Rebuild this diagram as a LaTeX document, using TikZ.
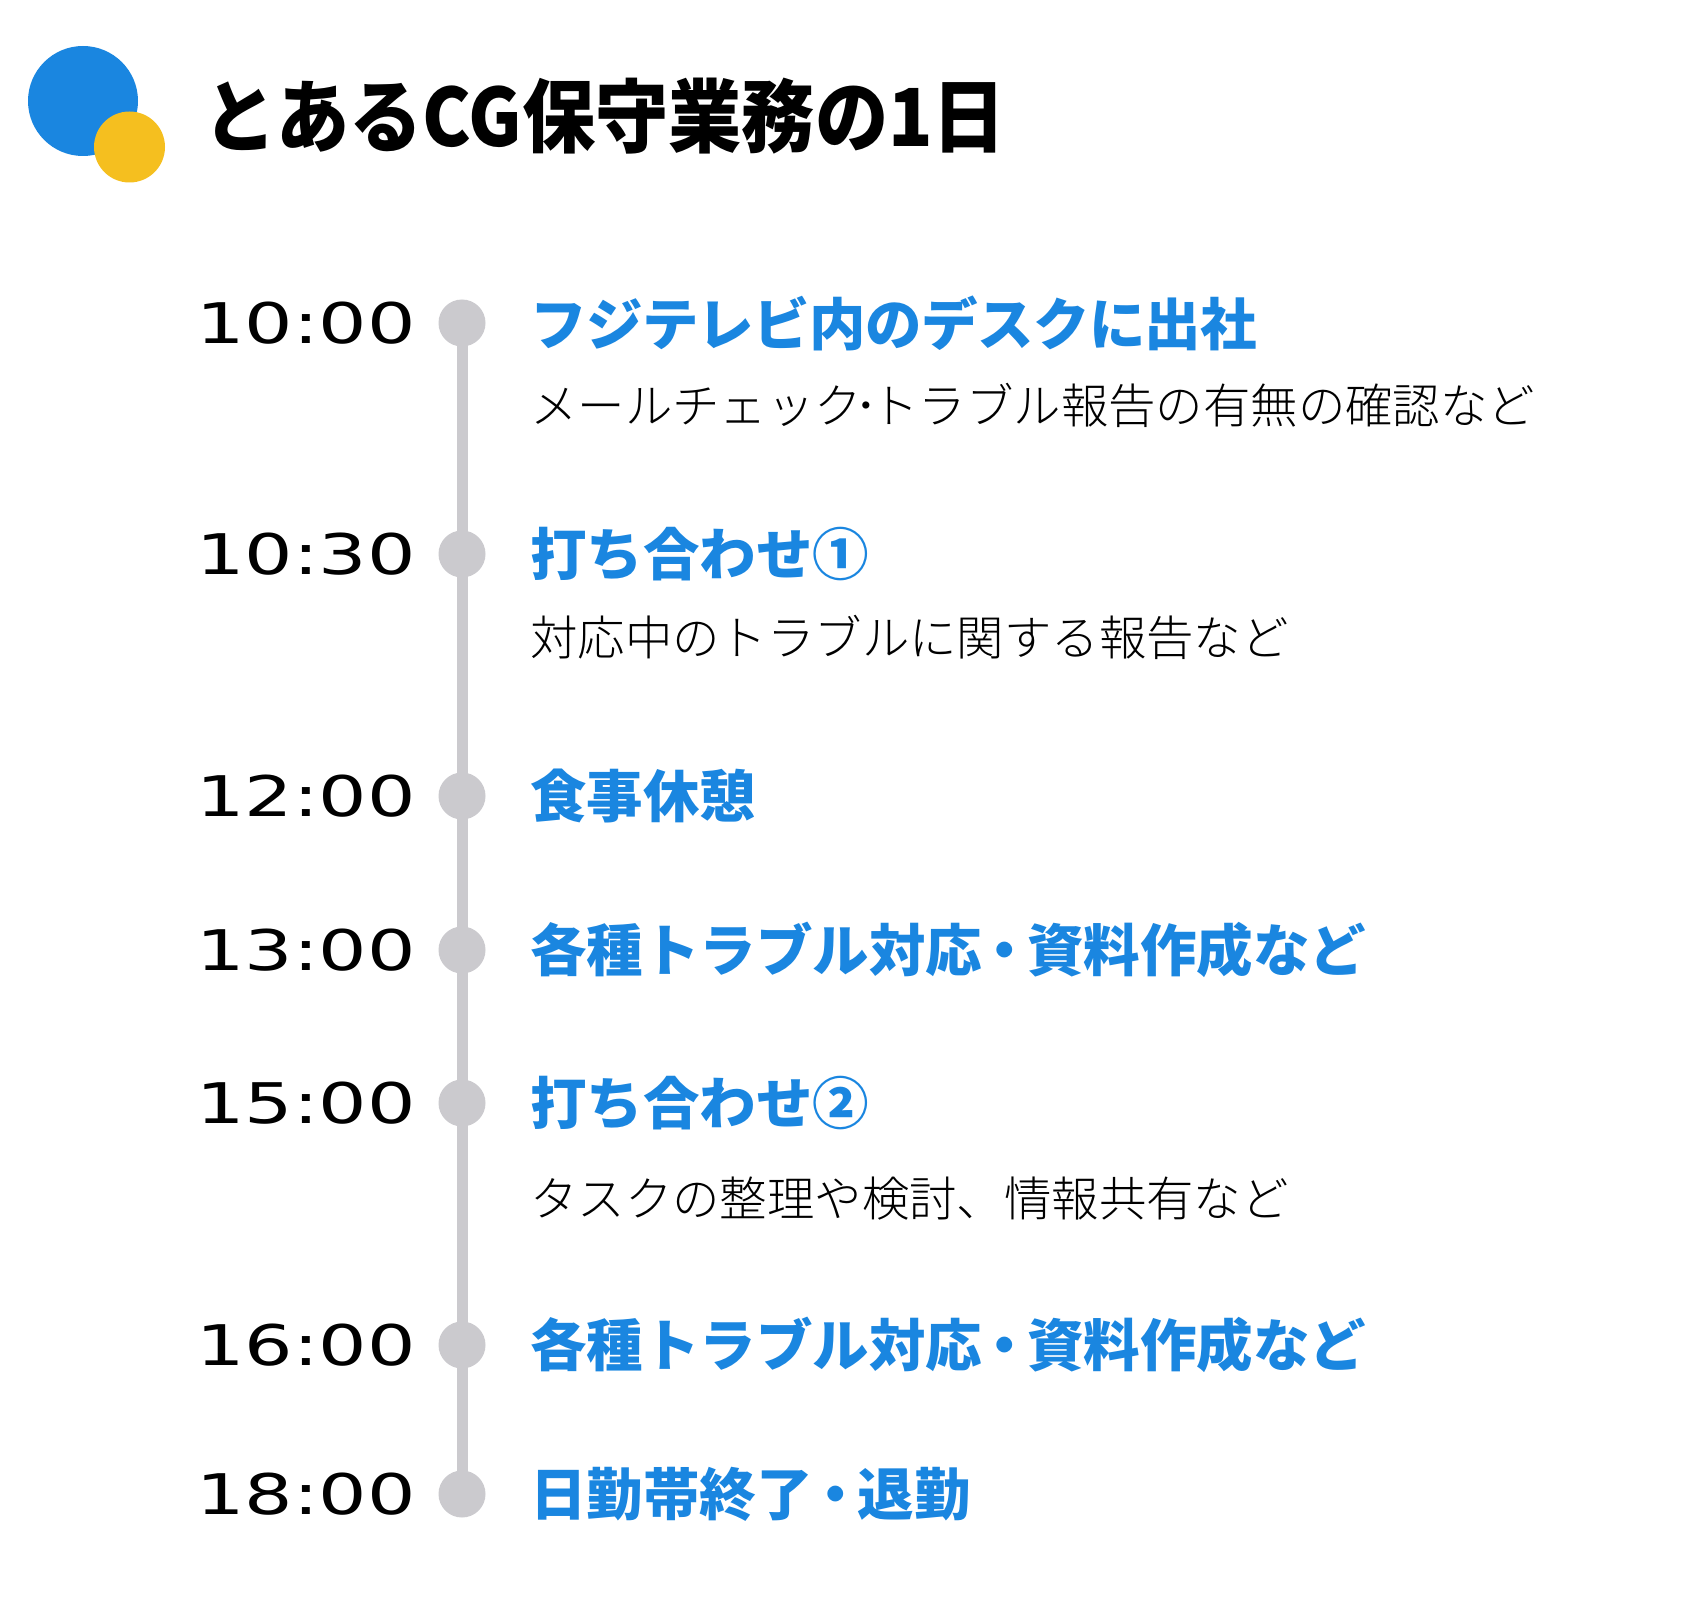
\documentclass[tikz,border=0pt]{standalone}
\usepackage{fontspec}
\newfontfamily\jpfont{Noto Sans CJK JP}
\IfFontExistsTF{Noto Sans CJK JP Light}
	{\newfontfamily\jplight{Noto Sans CJK JP Light}}
	{\newfontfamily\jplight{Noto Sans CJK JP}}
\newfontfamily\titlefont{Noto Sans CJK JP}[FakeStretch=0.915]
\newfontfamily\timefont{DejaVu Sans}[FakeStretch=1.36]
\definecolor{dayblue}{HTML}{1A86E0}
\definecolor{dayyellow}{HTML}{F5BF1F}
\definecolor{daygrey}{HTML}{CBCACE}
\newcommand{\middot}{\kern-0.1em・\kern-0.1em}
\newcommand{\halfdot}{\kern-0.15em･\kern-0.15em}
\begin{document}
\begin{tikzpicture}[x=1pt,y=-1pt,
	time/.style={anchor=west,inner sep=0pt,font=\timefont\fontsize{56}{60}\selectfont},
	head/.style={anchor=west,inner sep=0pt,text=dayblue,font=\jpfont\bfseries\fontsize{56.5}{60}\selectfont},
	sub/.style={anchor=west,inner sep=0pt,font=\jplight\fontsize{47.4}{50}\selectfont},
	dot/.style={circle,fill=daygrey,inner sep=0pt,minimum size=47pt}]
	\fill [white] (0,0) rectangle (1700,1602);
	\useasboundingbox (0,0) rectangle (1700,1602);
	% logo and title
	\fill [dayblue] (83,101) circle (55);
	\fill [dayyellow] (129.5,147) circle (35.5);
	\node [anchor=west,inner sep=0pt,font=\titlefont\bfseries\fontsize{80}{84}\selectfont] (title) at (203,116) {とあるCG保守業務の1日};
	% timeline
	\node [dot] (d1) at (462,323) {};
	\node [dot] (d2) at (462,554) {};
	\node [dot] (d3) at (462,796) {};
	\node [dot] (d4) at (462,950) {};
	\node [dot] (d5) at (462,1103) {};
	\node [dot] (d6) at (462,1345) {};
	\node [dot] (d7) at (462,1494) {};
	\draw [daygrey, line width=11pt] (d1.center) -- (d7.center);
	\node [time] (t1) at (196,323) {10:00};
	\node [time] (t2) at (196,554) {10:30};
	\node [time] (t3) at (196,796) {12:00};
	\node [time] (t4) at (196,950) {13:00};
	\node [time] (t5) at (196,1103) {15:00};
	\node [time] (t6) at (196,1345) {16:00};
	\node [time] (t7) at (196,1494) {18:00};
	\node [head] (h1) at (530,323) {\addfontfeature{LetterSpace=-1.1}フジテレビ内のデスクに出社};
	\node [sub] (s1) at (530,405) {メールチェック\halfdot トラブル報告の有無の確認など};
	\node [head] (h2) at (530,554) {打ち合わせ①};
	\node [sub] (s2) at (530,637) {対応中のトラブルに関する報告など};
	\node [head] (h3) at (530,796) {食事休憩};
	\node [head] (h4) at (530,950) {各種トラブル対応\middot 資料作成など};
	\node [head] (h5) at (530,1103) {打ち合わせ②};
	\node [sub] (s5) at (530,1199) {タスクの整理や検討、情報共有など};
	\node [head] (h6) at (530,1345) {各種トラブル対応\middot 資料作成など};
	\node [head] (h7) at (530,1494) {日勤帯終了\middot 退勤};
\end{tikzpicture}
\end{document}
